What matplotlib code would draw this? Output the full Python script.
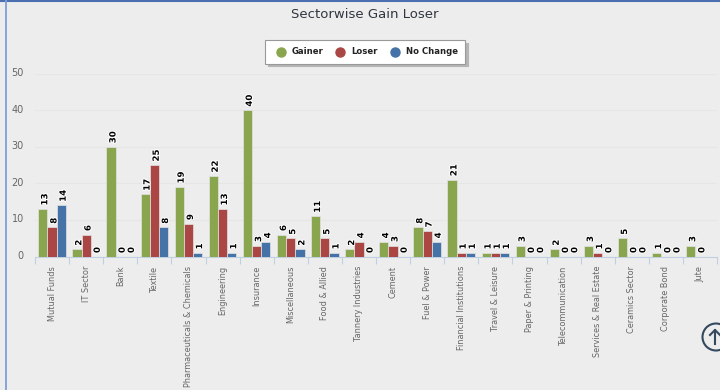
import numpy as np
import matplotlib
matplotlib.use("Agg")
import matplotlib.pyplot as plt
import matplotlib.patheffects as pe
from matplotlib.lines import Line2D
from matplotlib.patches import Ellipse
from matplotlib.transforms import ScaledTranslation

sectors = ["Mutual Funds", "IT Sector", "Bank", "Textile", "Pharmaceuticals & Chemicals",
           "Engineering", "Insurance", "Miscellaneous", "Food & Allied", "Tannery Industries",
           "Cement", "Fuel & Power", "Financial Institutions", "Travel & Leisure",
           "Paper & Printing", "Telecommunication", "Services & Real Estate",
           "Ceramics Sector", "Corporate Bond", "Jute"]
gainer = [13, 2, 30, 17, 19, 22, 40, 6, 11, 2, 4, 8, 21, 1, 3, 2, 3, 5, 1, 3]
loser = [8, 6, 0, 25, 9, 13, 3, 5, 5, 4, 3, 7, 1, 1, 0, 0, 1, 0, 0, 0]
no_change = [14, 0, 0, 8, 1, 1, 4, 2, 1, 0, 0, 4, 1, 1, 0, 0, 0, 0, 0, np.nan]
y_ticks = [0, 10, 20, 30, 40, 50]

BG = "#ededed"
W, H = 720, 390

plt.rcParams["font.family"] = ["DejaVu Sans"]
fig = plt.figure(figsize=(W / 100, H / 100), dpi=100, facecolor=BG)
ax = fig.add_axes([35 / W, 1 - 256.5 / H, 682 / W, 183 / H], facecolor=BG)

x = np.arange(len(sectors))
w = 0.27
series = [("Gainer", gainer, "#89a54e", -w), ("Loser", loser, "#aa4643", 0), ("No Change", no_change, "#4572a7", w)]
halo = [pe.withStroke(linewidth=1.4, foreground="white")]
for name, vals, color, off in series:
    ax.bar(x + off, vals, w, color=color, edgecolor="#e4e4e4", linewidth=0.5, label=name, zorder=3)
    for xi, v in zip(x, vals):
        if np.isnan(v):
            continue
        ax.annotate(str(int(v)), (xi + off, v), xytext=(1.4, 2.5), textcoords="offset points",
                    rotation=90, ha="center", va="bottom", fontsize=6.2, fontweight="bold",
                    color="black", path_effects=halo, zorder=5)

ax.set_xlim(-0.5, len(sectors) - 0.5)
ax.set_ylim(0, 50)
ax.set_yticks(y_ticks)
ax.set_xticks(x)
ax.set_xticklabels(sectors, rotation=90, fontsize=5.9, color="#666666", va="top", ha="center")
ax.set_xticks(np.arange(len(sectors) + 1) - 0.5, minor=True)
ax.tick_params(axis="x", which="major", length=0, pad=6.8)
ax.tick_params(axis="x", which="minor", length=5, width=0.8, color="#c0d0e0")
ax.tick_params(axis="y", length=0, labelsize=7, labelcolor="#666666", pad=8)
up = ScaledTranslation(0, 1.5 / 100, fig.dpi_scale_trans)
for lab in ax.get_yticklabels():
    lab.set_transform(lab.get_transform() + up)
ax.grid(axis="y", color="#e6e6e6", linewidth=0.8, zorder=0)
ax.set_axisbelow(True)
for s in ["top", "right", "left"]:
    ax.spines[s].set_visible(False)
ax.spines["bottom"].set_color("#c0d0e0")

fig.text(365 / W, 1 - 14 / H, "Sectorwise Gain Loser", ha="center", va="center",
         fontsize=9.5, color="#2f3640")

leg = fig.legend(loc="center", bbox_to_anchor=(365 / W, 1 - 52 / H), ncol=3, frameon=True,
                 handles=[Line2D([], [], marker="o", ls="", ms=6.5, color=c, label=n) for n, _, c, _ in series],
                 prop={"size": 6.1, "weight": "bold"}, labelcolor="#222222",
                 fancybox=False, shadow={"color": "#b5b5b5", "alpha": 1}, edgecolor="#999999", facecolor="white",
                 handletextpad=0.3, columnspacing=1.0, borderpad=0.85)
leg.get_frame().set_linewidth(0.8)

# page bits around the chart
fig.add_artist(Line2D([0, 1], [1 - 0.5 / H] * 2, color="#4a70b0", lw=1.5))
fig.add_artist(Line2D([5.5 / W] * 2, [0, 1], color="#7f9fd8", lw=1.3))
dark = "#34495e"
fig.add_artist(Ellipse((716 / W, 1 - 337 / H), 27 / W, 27 / H, facecolor="none", edgecolor=dark, lw=1.5))
fig.add_artist(Line2D([715 / W] * 2, [1 - 330 / H, 1 - 344 / H], color=dark, lw=1.5))
fig.add_artist(Line2D([710 / W, 715 / W, 720 / W], [1 - 335 / H, 1 - 330 / H, 1 - 335 / H], color=dark, lw=1.5))

fig.savefig("out.png", dpi=100, facecolor=BG)
